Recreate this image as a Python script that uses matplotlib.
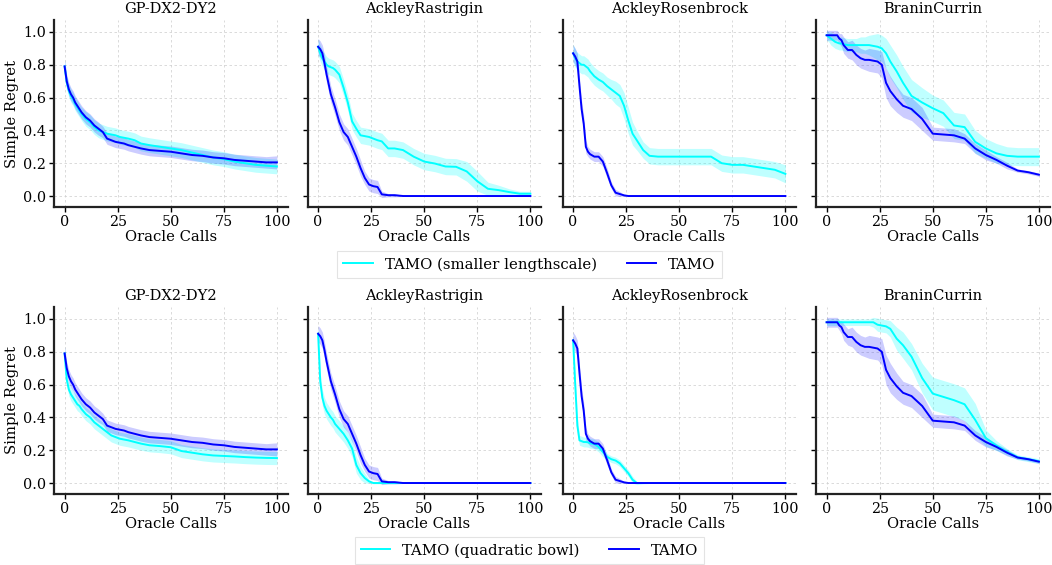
import numpy as np
import matplotlib
matplotlib.use("Agg")
import matplotlib.pyplot as plt

plt.rcParams['font.family'] = ['DejaVu Serif']

calls = [0, 1, 2, 3, 4, 5, 6, 7, 8, 10, 12, 14, 16, 18, 20, 22, 24, 26, 28, 30,
         33, 36, 40, 45, 50, 55, 60, 65, 70, 75, 80, 85, 90, 95, 100]
problems = ["GP-DX2-DY2", "AckleyRastrigin", "AckleyRosenbrock", "BraninCurrin"]
top_label = "TAMO (smaller lengthscale)"
bottom_label = "TAMO (quadratic bowl)"
base_label = "TAMO"

# --- TAMO (baseline, shared by both rows) ---
gp_tamo = [0.79, 0.70, 0.65, 0.62, 0.60, 0.57, 0.55, 0.53, 0.51, 0.48, 0.46, 0.43, 0.41, 0.39, 0.35, 0.34, 0.33, 0.325, 0.32, 0.31,
           0.30, 0.29, 0.28, 0.275, 0.27, 0.26, 0.25, 0.245, 0.235, 0.23, 0.22, 0.215, 0.21, 0.205, 0.205]
gp_tamo_sd = [0.04, 0.04, 0.04, 0.04, 0.04, 0.04, 0.04, 0.04, 0.04, 0.04, 0.04, 0.04, 0.04, 0.035, 0.035, 0.035, 0.035, 0.035, 0.035, 0.035,
              0.035, 0.035, 0.035, 0.035, 0.035, 0.035, 0.035, 0.035, 0.035, 0.035, 0.035, 0.035, 0.035, 0.035, 0.04]
ar_tamo = [0.91, 0.895, 0.87, 0.81, 0.74, 0.68, 0.62, 0.58, 0.54, 0.45, 0.39, 0.36, 0.30, 0.24, 0.17, 0.11, 0.07, 0.06, 0.055, 0.01,
           0.005, 0.005, 0.0, 0.0, 0.0, 0.0, 0.0, 0.0, 0.0, 0.0, 0.0, 0.0, 0.0, 0.0, 0.0]
ar_tamo_sd = [0.05, 0.05, 0.05, 0.05, 0.05, 0.05, 0.05, 0.05, 0.05, 0.05, 0.05, 0.05, 0.05, 0.05, 0.05, 0.04, 0.04, 0.04, 0.04, 0.02,
              0.01, 0.01, 0.003, 0.003, 0.003, 0.003, 0.003, 0.003, 0.003, 0.003, 0.003, 0.003, 0.003, 0.003, 0.003]
ak_tamo = [0.87, 0.85, 0.82, 0.67, 0.53, 0.44, 0.30, 0.27, 0.255, 0.24, 0.24, 0.21, 0.14, 0.065, 0.02, 0.012, 0.004, 0.0, 0.0, 0.0,
           0.0, 0.0, 0.0, 0.0, 0.0, 0.0, 0.0, 0.0, 0.0, 0.0, 0.0, 0.0, 0.0, 0.0, 0.0]
ak_tamo_sd = [0.05, 0.05, 0.05, 0.05, 0.05, 0.05, 0.04, 0.03, 0.03, 0.03, 0.03, 0.03, 0.03, 0.02, 0.02, 0.015, 0.005, 0.003, 0.003, 0.003,
              0.003, 0.003, 0.003, 0.003, 0.003, 0.003, 0.003, 0.003, 0.003, 0.003, 0.003, 0.003, 0.003, 0.003, 0.003]
bc_tamo = [0.98, 0.98, 0.98, 0.98, 0.98, 0.98, 0.96, 0.95, 0.92, 0.89, 0.89, 0.86, 0.84, 0.83, 0.83, 0.825, 0.82, 0.80, 0.69, 0.64,
           0.59, 0.55, 0.53, 0.47, 0.38, 0.375, 0.37, 0.35, 0.29, 0.25, 0.22, 0.185, 0.155, 0.145, 0.13]
bc_tamo_sd = [0.03, 0.03, 0.03, 0.03, 0.03, 0.03, 0.03, 0.04, 0.05, 0.05, 0.06, 0.06, 0.06, 0.06, 0.07, 0.07, 0.07, 0.08, 0.09, 0.09,
              0.08, 0.07, 0.07, 0.07, 0.04, 0.04, 0.04, 0.03, 0.03, 0.03, 0.02, 0.02, 0.01, 0.01, 0.01]

# --- TAMO (smaller lengthscale), top row ---
gp_small = [0.79, 0.69, 0.64, 0.61, 0.59, 0.56, 0.54, 0.52, 0.50, 0.47, 0.45, 0.42, 0.40, 0.39, 0.38, 0.375, 0.37, 0.36, 0.355, 0.35,
            0.34, 0.32, 0.31, 0.30, 0.29, 0.28, 0.265, 0.25, 0.235, 0.225, 0.21, 0.20, 0.19, 0.185, 0.18]
gp_small_sd = [0.04, 0.04, 0.04, 0.04, 0.04, 0.04, 0.04, 0.04, 0.04, 0.045, 0.045, 0.045, 0.045, 0.045, 0.045, 0.045, 0.045, 0.045, 0.045, 0.045,
               0.045, 0.045, 0.045, 0.045, 0.045, 0.045, 0.045, 0.045, 0.045, 0.045, 0.045, 0.045, 0.045, 0.045, 0.045]
ar_small = [0.91, 0.87, 0.84, 0.82, 0.80, 0.79, 0.785, 0.78, 0.77, 0.74, 0.66, 0.57, 0.455, 0.41, 0.37, 0.365, 0.36, 0.35, 0.34, 0.333,
            0.29, 0.29, 0.28, 0.24, 0.21, 0.198, 0.18, 0.178, 0.15, 0.09, 0.044, 0.036, 0.024, 0.014, 0.014]
ar_small_sd = [0.05, 0.05, 0.05, 0.05, 0.05, 0.05, 0.05, 0.05, 0.05, 0.05, 0.05, 0.05, 0.05, 0.05, 0.05, 0.05, 0.05, 0.05, 0.05, 0.05,
               0.05, 0.05, 0.05, 0.05, 0.05, 0.05, 0.05, 0.05, 0.06, 0.06, 0.04, 0.03, 0.02, 0.015, 0.015]
ak_small = [0.87, 0.84, 0.82, 0.81, 0.80, 0.80, 0.79, 0.78, 0.76, 0.73, 0.71, 0.695, 0.67, 0.65, 0.63, 0.61, 0.55, 0.46, 0.38, 0.34,
            0.28, 0.245, 0.24, 0.24, 0.24, 0.24, 0.24, 0.24, 0.20, 0.19, 0.19, 0.18, 0.17, 0.16, 0.135]
ak_small_sd = [0.055, 0.055, 0.055, 0.055, 0.055, 0.055, 0.055, 0.055, 0.055, 0.055, 0.055, 0.055, 0.055, 0.06, 0.07, 0.07, 0.08, 0.08, 0.07, 0.06,
               0.05, 0.05, 0.05, 0.05, 0.05, 0.05, 0.05, 0.05, 0.05, 0.05, 0.05, 0.05, 0.05, 0.05, 0.055]
bc_small = [0.98, 0.97, 0.96, 0.95, 0.94, 0.935, 0.93, 0.93, 0.925, 0.92, 0.92, 0.92, 0.92, 0.92, 0.92, 0.915, 0.91, 0.90, 0.87, 0.82,
            0.76, 0.69, 0.61, 0.57, 0.535, 0.505, 0.43, 0.42, 0.33, 0.29, 0.26, 0.245, 0.24, 0.24, 0.24]
bc_small_sd = [0.03, 0.03, 0.04, 0.04, 0.04, 0.04, 0.04, 0.04, 0.04, 0.04, 0.04, 0.04, 0.05, 0.05, 0.06, 0.07, 0.08, 0.08, 0.09, 0.1,
               0.1, 0.1, 0.1, 0.09, 0.08, 0.08, 0.08, 0.08, 0.07, 0.06, 0.06, 0.055, 0.055, 0.055, 0.055]

# --- TAMO (quadratic bowl), bottom row ---
gp_bowl = [0.79, 0.63, 0.57, 0.54, 0.52, 0.50, 0.48, 0.47, 0.45, 0.42, 0.40, 0.37, 0.35, 0.33, 0.31, 0.29, 0.28, 0.27, 0.265, 0.26,
           0.25, 0.24, 0.23, 0.225, 0.218, 0.195, 0.185, 0.175, 0.168, 0.165, 0.162, 0.158, 0.155, 0.153, 0.152]
gp_bowl_sd = [0.04, 0.04, 0.04, 0.04, 0.04, 0.04, 0.04, 0.04, 0.04, 0.04, 0.04, 0.04, 0.04, 0.04, 0.04, 0.04, 0.04, 0.04, 0.04, 0.04,
              0.04, 0.04, 0.04, 0.04, 0.04, 0.04, 0.04, 0.04, 0.04, 0.04, 0.04, 0.04, 0.04, 0.04, 0.04]
ar_bowl = [0.91, 0.62, 0.52, 0.47, 0.44, 0.42, 0.40, 0.385, 0.36, 0.33, 0.30, 0.26, 0.21, 0.11, 0.06, 0.03, 0.01, 0.0, 0.0, 0.0,
           0.0, 0.0, 0.0, 0.0, 0.0, 0.0, 0.0, 0.0, 0.0, 0.0, 0.0, 0.0, 0.0, 0.0, 0.0]
ar_bowl_sd = [0.05, 0.05, 0.05, 0.05, 0.05, 0.05, 0.05, 0.05, 0.05, 0.05, 0.05, 0.05, 0.05, 0.05, 0.04, 0.03, 0.01, 0.005, 0.005, 0.005,
              0.005, 0.005, 0.003, 0.003, 0.003, 0.003, 0.003, 0.003, 0.003, 0.003, 0.003, 0.003, 0.003, 0.003, 0.003]
ak_bowl = [0.87, 0.60, 0.35, 0.26, 0.255, 0.25, 0.25, 0.248, 0.242, 0.238, 0.22, 0.19, 0.16, 0.145, 0.137, 0.12, 0.09, 0.06, 0.02, 0.0,
           0.0, 0.0, 0.0, 0.0, 0.0, 0.0, 0.0, 0.0, 0.0, 0.0, 0.0, 0.0, 0.0, 0.0, 0.0]
ak_bowl_sd = [0.05, 0.05, 0.05, 0.03, 0.03, 0.03, 0.03, 0.03, 0.03, 0.03, 0.03, 0.03, 0.02, 0.02, 0.02, 0.02, 0.02, 0.02, 0.02, 0.01,
              0.005, 0.003, 0.003, 0.003, 0.003, 0.003, 0.003, 0.003, 0.003, 0.003, 0.003, 0.003, 0.003, 0.003, 0.003]
bc_bowl = [0.98, 0.98, 0.98, 0.98, 0.98, 0.98, 0.98, 0.98, 0.98, 0.98, 0.98, 0.98, 0.98, 0.98, 0.98, 0.98, 0.965, 0.96, 0.955, 0.94,
           0.88, 0.84, 0.77, 0.64, 0.545, 0.525, 0.505, 0.48, 0.385, 0.274, 0.228, 0.19, 0.157, 0.145, 0.133]
bc_bowl_sd = [0.02, 0.02, 0.02, 0.02, 0.02, 0.02, 0.02, 0.02, 0.02, 0.02, 0.02, 0.02, 0.02, 0.02, 0.02, 0.03, 0.04, 0.04, 0.04, 0.05,
              0.07, 0.08, 0.08, 0.09, 0.1, 0.1, 0.1, 0.1, 0.1, 0.05, 0.03, 0.02, 0.015, 0.015, 0.015]

top_rows = [(gp_small, gp_small_sd), (ar_small, ar_small_sd), (ak_small, ak_small_sd), (bc_small, bc_small_sd)]
bottom_rows = [(gp_bowl, gp_bowl_sd), (ar_bowl, ar_bowl_sd), (ak_bowl, ak_bowl_sd), (bc_bowl, bc_bowl_sd)]
base_rows = [(gp_tamo, gp_tamo_sd), (ar_tamo, ar_tamo_sd), (ak_tamo, ak_tamo_sd), (bc_tamo, bc_tamo_sd)]

CYAN = "#00FFFF"
BLUE = "#0000FF"

W, H = 1052, 565
fig = plt.figure(figsize=(W / 100, H / 100), dpi=100)

lefts = [54, 307.5, 562.5, 816]
aw = 233.5
row_tops = [20, 307]
ah = 187

x = np.array(calls)

def draw_panel(ax, variant, base, title, first):
    vy, vs = np.array(variant[0]), np.array(variant[1])
    by, bs = np.array(base[0]), np.array(base[1])
    ax.fill_between(x, vy - vs, vy + vs, color=CYAN, alpha=0.25, linewidth=0)
    ax.fill_between(x, by - bs, by + bs, color=BLUE, alpha=0.2, linewidth=0)
    lv, = ax.plot(x, vy, color=CYAN, lw=1.4)
    lb, = ax.plot(x, by, color=BLUE, lw=1.4)
    ax.set_xlim(-5, 105)
    ax.set_ylim(-0.067, 1.073)
    ax.set_xticks([0, 25, 50, 75, 100])
    ax.set_yticks([0.0, 0.2, 0.4, 0.6, 0.8, 1.0])
    ax.grid(True, linestyle=(0, (3, 3)), linewidth=0.6, color='#d0d0d0', alpha=0.9)
    ax.set_axisbelow(True)
    for s in ['top', 'right']:
        ax.spines[s].set_visible(False)
    for s in ['left', 'bottom']:
        ax.spines[s].set_linewidth(1.6)
        ax.spines[s].set_color('#222222')
    ax.tick_params(axis='both', labelsize=10.3, length=3.5, width=1.0, pad=2)
    ax.set_title(title, fontsize=10.5, pad=5)
    ax.set_xlabel("Oracle Calls", fontsize=10.6, labelpad=1)
    if first:
        ax.set_ylabel("Simple Regret", fontsize=10.6, labelpad=3)
        ax.yaxis.set_major_formatter(matplotlib.ticker.FormatStrFormatter('%.1f'))
    else:
        ax.set_yticklabels([])
    return lv, lb

for r, (rows, lab) in enumerate([(top_rows, top_label), (bottom_rows, bottom_label)]):
    handles = None
    for c in range(4):
        ax = fig.add_axes([lefts[c] / W, 1 - (row_tops[r] + ah) / H, aw / W, ah / H])
        lv, lb = draw_panel(ax, rows[c], base_rows[c], problems[c], c == 0)
        handles = (lv, lb)
    ly = 264.5 if r == 0 else 550.5
    leg = fig.legend(handles, [lab, base_label], loc='center', bbox_to_anchor=(529.5 / W, 1 - ly / H),
                     ncol=2, fontsize=10.7, frameon=True, fancybox=False, edgecolor='#dddddd',
                     handlelength=2.0, columnspacing=2.0, borderpad=0.4)
    leg.get_frame().set_linewidth(0.8)

fig.savefig("out.png", dpi=100)
